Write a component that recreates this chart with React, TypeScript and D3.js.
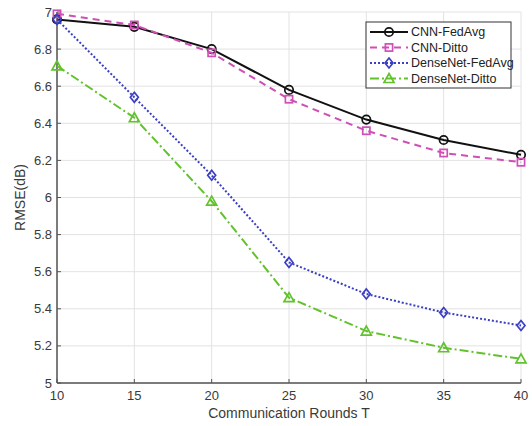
import React from 'react';
import * as d3 from 'd3';

const rounds = [10, 15, 20, 25, 30, 35, 40];
const cnnFedAvg = [6.96, 6.92, 6.8, 6.58, 6.42, 6.31, 6.23];
const cnnDitto = [6.99, 6.93, 6.78, 6.53, 6.36, 6.24, 6.19];
const denseFedAvg = [6.96, 6.54, 6.12, 5.65, 5.48, 5.38, 5.31];
const denseDitto = [6.71, 6.43, 5.98, 5.46, 5.28, 5.19, 5.13];
const yTicks = [5, 5.2, 5.4, 5.6, 5.8, 6, 6.2, 6.4, 6.6, 6.8, 7];
const xTicks = [10, 15, 20, 25, 30, 35, 40];

const series = [
  { name: 'CNN-FedAvg', values: cnnFedAvg, color: '#111111', dash: 'none', marker: 'circle' },
  { name: 'CNN-Ditto', values: cnnDitto, color: '#d04fb6', dash: '7,5', marker: 'square' },
  { name: 'DenseNet-FedAvg', values: denseFedAvg, color: '#3b3fc4', dash: '2,2', marker: 'diamond' },
  { name: 'DenseNet-Ditto', values: denseDitto, color: '#62c22c', dash: '9,3,2,3', marker: 'triangle' },
];

function Marker({ type, x, y, color }: { type: string; x: number; y: number; color: string }) {
  const r = 4.2;
  if (type === 'circle') return <circle cx={x} cy={y} r={r} fill="none" stroke={color} strokeWidth={1.7} />;
  if (type === 'square')
    return <rect x={x - 3.6} y={y - 3.6} width={7.2} height={7.2} fill="none" stroke={color} strokeWidth={1.7} />;
  if (type === 'diamond')
    return (
      <path d={`M${x},${y - 5}L${x + 4},${y}L${x},${y + 5}L${x - 4},${y}Z`} fill="none" stroke={color} strokeWidth={1.7} />
    );
  return (
    <path d={`M${x},${y - 5}L${x + 5},${y + 4}L${x - 5},${y + 4}Z`} fill="none" stroke={color} strokeWidth={1.7} />
  );
}

export default function App() {
  const width = 532, height = 426;
  const left = 57, right = 521, top = 12, bottom = 383;

  const x = d3.scaleLinear().domain([10, 40]).range([left, right]);
  const y = d3.scaleLinear().domain([5, 7]).range([bottom, top]);

  const line = d3.line<number>()
    .x((d, i) => x(rounds[i]))
    .y(d => y(d));

  const font = 'Arial, "Liberation Sans", Helvetica, sans-serif';
  const textColor = '#3a3a3a';

  const legX = 366, legY = 22, legW = 145, legH = 66;

  return (
    <svg width={width} height={height} style={{ position: 'absolute', left: 0, top: 0, background: '#fff' }}>
      <rect width={width} height={height} fill="#fff" />
      {/* grid */}
      {yTicks.map(t => (
        <line key={'gy' + t} x1={left} x2={right} y1={y(t)} y2={y(t)} stroke="#e2e2e2" strokeWidth={1} />
      ))}
      {xTicks.map(t => (
        <line key={'gx' + t} x1={x(t)} x2={x(t)} y1={top} y2={bottom} stroke="#e2e2e2" strokeWidth={1} />
      ))}
      {/* axes */}
      <line x1={left} x2={left} y1={top} y2={bottom} stroke="#555" strokeWidth={1.5} />
      <line x1={left} x2={right} y1={bottom} y2={bottom} stroke="#555" strokeWidth={1.5} />
      {yTicks.map(t => (
        <g key={'ty' + t}>
          <line x1={left} x2={left + 4} y1={y(t)} y2={y(t)} stroke="#555" strokeWidth={1} />
          <text x={left - 5} y={y(t)} dy="0.35em" textAnchor="end" fontFamily={font} fontSize={13} fill={textColor}>
            {t}
          </text>
        </g>
      ))}
      {xTicks.map(t => (
        <g key={'tx' + t}>
          <line x1={x(t)} x2={x(t)} y1={bottom} y2={bottom - 4} stroke="#555" strokeWidth={1} />
          <text x={x(t)} y={bottom + 17} textAnchor="middle" fontFamily={font} fontSize={13} fill={textColor}>
            {t}
          </text>
        </g>
      ))}
      <text x={(left + right) / 2} y={418} textAnchor="middle" fontFamily={font} fontSize={14} fill={textColor}>
        Communication Rounds T
      </text>
      <text
        transform={`translate(25,${(top + bottom) / 2}) rotate(-90)`}
        textAnchor="middle"
        fontFamily={font}
        fontSize={14}
        fill={textColor}
      >
        RMSE(dB)
      </text>
      {/* series */}
      {series.map(s => (
        <g key={s.name}>
          <path d={line(s.values) || ''} fill="none" stroke={s.color} strokeWidth={2} strokeDasharray={s.dash} />
          {s.values.map((v, i) => (
            <Marker key={i} type={s.marker} x={x(rounds[i])} y={y(v)} color={s.color} />
          ))}
        </g>
      ))}
      {/* legend */}
      <rect x={legX} y={legY} width={legW} height={legH} fill="#fff" stroke="#333" strokeWidth={1} />
      {series.map((s, i) => {
        const ly = legY + 10 + i * 15.5;
        return (
          <g key={'leg' + s.name}>
            <line x1={legX + 4} x2={legX + 42} y1={ly} y2={ly} stroke={s.color} strokeWidth={2} strokeDasharray={s.dash} />
            <Marker type={s.marker} x={legX + 23} y={ly} color={s.color} />
            <text x={legX + 45} y={ly} dy="0.35em" fontFamily={font} fontSize={12.5} fill="#222">
              {s.name}
            </text>
          </g>
        );
      })}
    </svg>
  );
}
